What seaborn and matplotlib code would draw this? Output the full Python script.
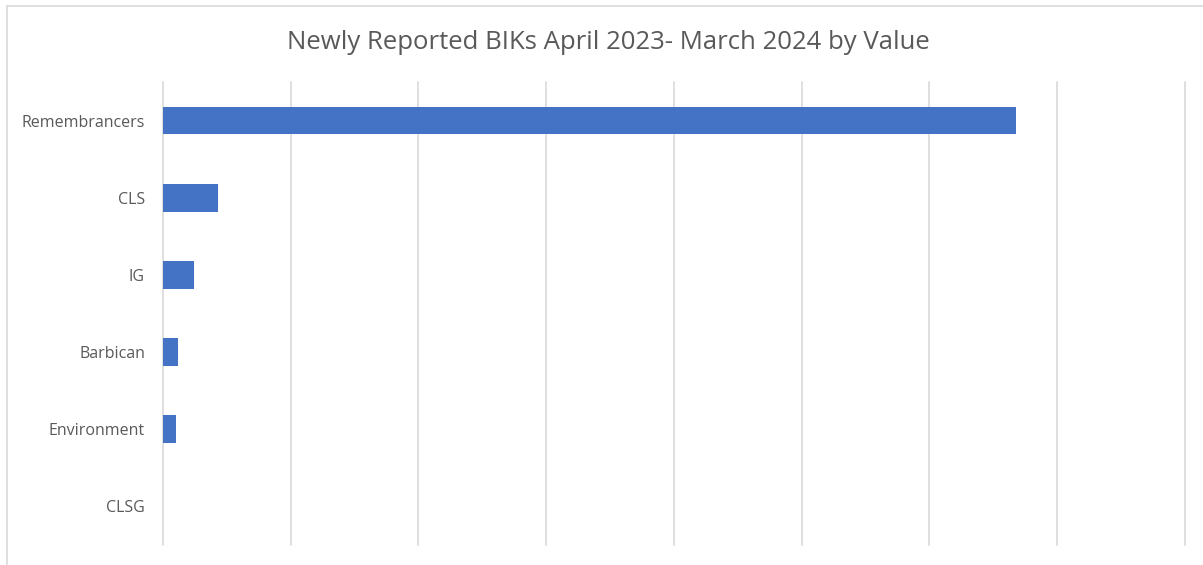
import pandas as pd
import seaborn as sns
import matplotlib.pyplot as plt
from matplotlib.lines import Line2D

# Values (x axis has no labels, one gridline = 1 unit)
categories = ['Remembrancers', 'CLS', 'IG', 'Barbican', 'Environment', 'CLSG']
values = [6.68, 0.43, 0.24, 0.115, 0.10, 0.0]

df = pd.DataFrame({'dept': categories, 'value': values})

sns.set_theme(style='white')
plt.rcParams['font.family'] = ['Open Sans', 'DejaVu Sans']

fig = plt.figure(figsize=(12.03, 5.65), dpi=100)
ax = fig.add_axes([0.1355, 0.0354, 0.8495, 0.8196])

sns.barplot(data=df, x='value', y='dept', color='#4472C4', width=0.36,
            saturation=1, linewidth=0, ax=ax)

ax.set_xlim(0, 8)
ax.set_ylim(5.5, -0.5)
ax.set_xticks(range(0, 9))
ax.set_xticklabels([])
ax.tick_params(axis='x', length=0)
ax.tick_params(axis='y', length=0, labelsize=11.5, labelcolor='#595959', pad=13)
for lbl in ax.get_yticklabels():
    lbl.set_y(lbl.get_position()[1])
ax.grid(axis='x', color='#D9D9D9', linewidth=1.2)
for gl in ax.get_xgridlines():
    gl.set_clip_on(False)
ax.set_axisbelow(True)
for s in ax.spines.values():
    s.set_visible(False)
ax.set_xlabel('')
ax.set_ylabel('')

fig.text(0.506, 0.925, 'Newly Reported BIKs April 2023- March 2024 by Value',
         ha='center', va='center', fontsize=18.5, color='#595959')

# outer chart frame (top and left edges visible in the crop)
fig.add_artist(Line2D([0.0058, 1.0], [0.989, 0.989], color='#D9D9D9', lw=1.2,
                      transform=fig.transFigure))
fig.add_artist(Line2D([0.0058, 0.0058], [0.0, 0.989], color='#D9D9D9', lw=1.2,
                      transform=fig.transFigure))

fig.savefig('out.png', dpi=100, facecolor='white')
